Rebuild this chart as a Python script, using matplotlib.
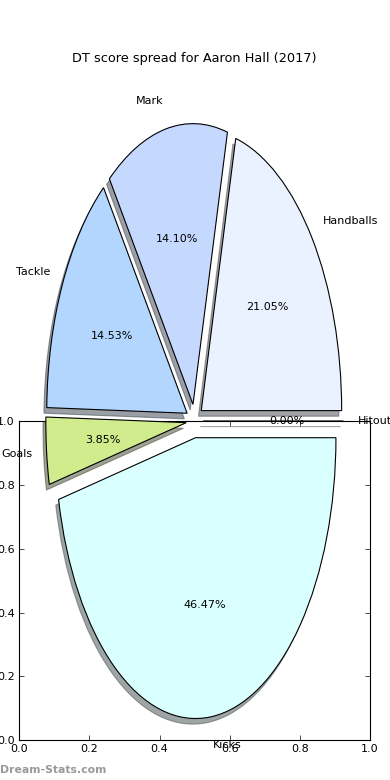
import matplotlib
matplotlib.use('Agg')
import matplotlib.pyplot as plt

labels = ['Hitout', 'Handballs', 'Mark', 'Tackle', 'Goals', 'Kicks']
values = [0.0, 21.05, 14.10, 14.53, 3.85, 46.47]
colors = ['#E0FFE0', '#EAF2FF', '#C5D9FF', '#B3D6FF', '#D0EC8C', '#DAFFFF']
explode = [0.06] * len(values)
ticks = [0.0, 0.2, 0.4, 0.6, 0.8, 1.0]

plt.rcParams['font.size'] = 8

fig = plt.figure(figsize=(3.9, 7.8), dpi=100)

# the empty axes that shows up underneath the pie
ax = fig.add_axes([0.049, 0.051, 0.9, 0.409])
ax.set_xlim(0, 1)
ax.set_ylim(0, 1)
ax.set_xticks(ticks)
ax.set_yticks(ticks)
ax.tick_params(direction='in', top=True, right=True, length=3.5, width=0.5,
               labelsize=8, pad=3)
for s in ax.spines.values():
    s.set_linewidth(0.8)

# pie axes on top, transparent
pax = fig.add_axes([0.049, 0.0103, 0.9, 0.9])
pax.patch.set_alpha(0)
# shadow offset is scaled by dpi/72 now, undo that
off = -0.02 * 72 / 100
wedges, texts, autotexts = pax.pie(values, labels=labels, colors=colors,
                                   explode=explode,
                                   shadow=dict(ox=off, oy=off),
                                   autopct='%1.2f%%',
                                   wedgeprops=dict(edgecolor='black', linewidth=0.8),
                                   textprops=dict(fontsize=8))
pax.set_aspect('auto')
pax.set_xlim(-1.25, 1.25)
pax.set_ylim(-1.25, 1.25)
pax.set_title('DT score spread for Aaron Hall (2017)', fontsize=9.3)

fig.text(0.0, 10 / 780, 'Dream-Stats.com', fontsize=7.8, fontweight='bold',
         color='#999999', ha='left', va='center')

fig.savefig('out.png', dpi=100)
